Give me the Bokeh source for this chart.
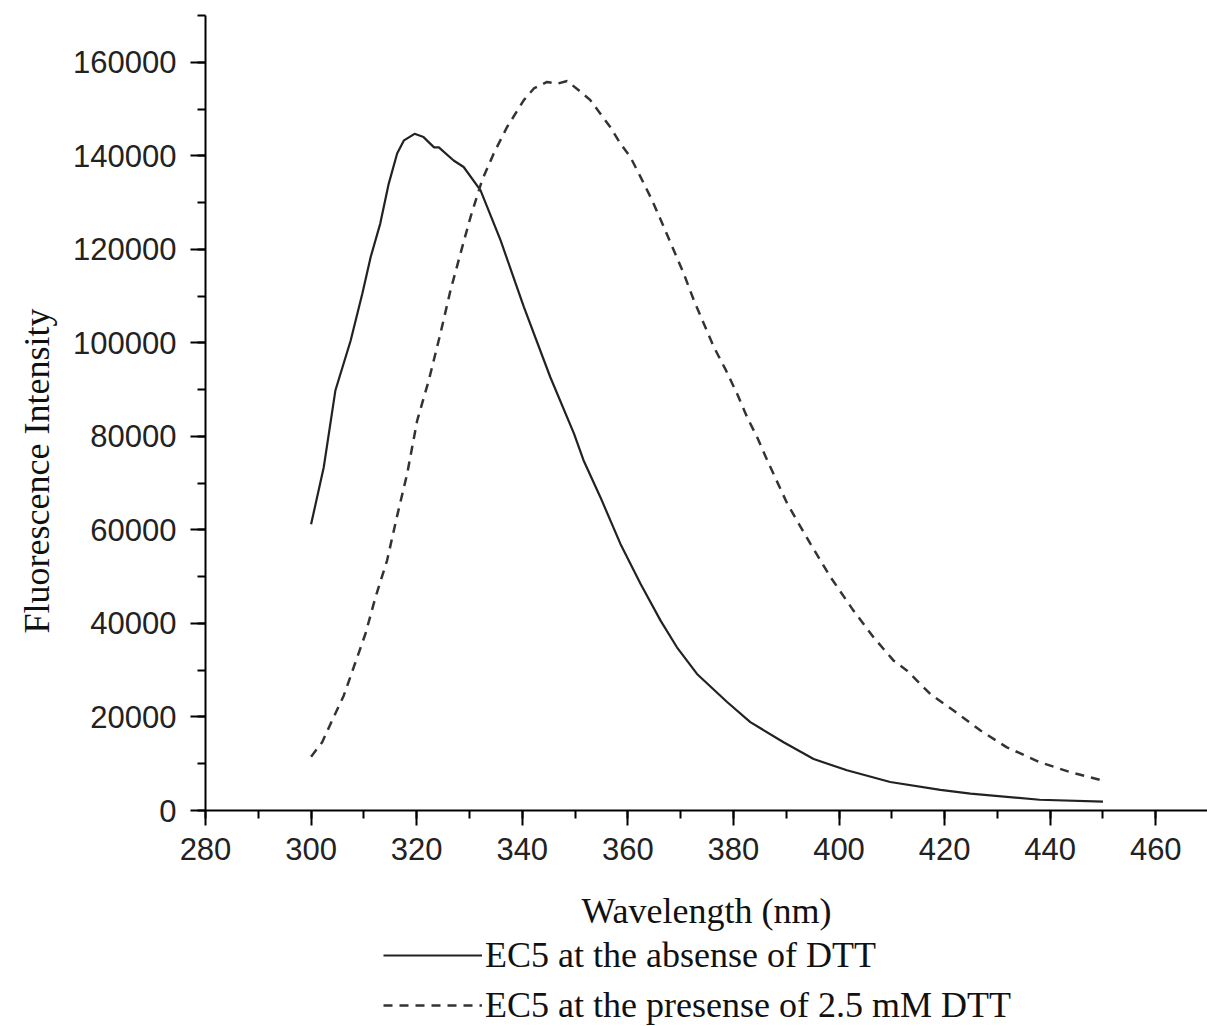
from bokeh.plotting import figure
from bokeh.layouts import column
from bokeh.models import SingleIntervalTicker, Legend, LegendItem, BasicTickFormatter, Range1d, Title
from bokeh.embed import file_html
from bokeh.resources import INLINE

# EC5 at the absence of DTT (solid)
wl_absence = [300, 302.4, 304.6, 307.5, 309.7, 311.3, 313.1, 314.7, 316.3, 317.6, 319.6,
              321.3, 323.3, 324.2, 327.0, 328.9, 332.1, 335.9, 340.3, 345.3, 349.8, 351.6,
              354.8, 358.6, 362.4, 366.2, 369.3, 373.1, 378.8, 383.2, 389.5, 395.2, 401.5,
              409.7, 419.2, 424.9, 438.0, 450.0]
fi_absence = [61200, 73400, 89800, 100500, 110500, 118400, 125500, 134000, 140500, 143300,
              144700, 144000, 141800, 141800, 139000, 137600, 132600, 121900, 107700, 92700,
              80600, 74900, 67000, 57000, 48500, 40600, 34900, 29200, 23200, 18900, 14600,
              11000, 8600, 6100, 4400, 3600, 2300, 1900]

# EC5 at the presence of 2.5 mM DTT (dashed)
wl_presence = [300, 302.1, 304.0, 306.2, 308.1, 310.3, 312.2, 314.4, 316.3, 318.2, 320.1,
               322.3, 324.5, 326.4, 328.3, 330.2, 332.4, 334.6, 337.1, 340.3, 342.2, 344.7,
               346.6, 348.5, 350.7, 352.9, 354.8, 356.7, 358.6, 360.5, 362.4, 364.6, 366.8,
               368.7, 370.6, 372.5, 374.4, 376.3, 378.6, 380.7, 382.6, 384.5, 386.4, 390.2,
               394.6, 398.4, 402.7, 406.5, 410.3, 412.9, 417.3, 421.7, 426.8, 431.8, 438.1,
               443.8, 450.0]
fi_presence = [11500, 14600, 19300, 24600, 30700, 37800, 45600, 53500, 63000, 72000, 83400,
               92000, 102000, 111200, 119100, 126900, 134800, 140500, 146100, 151900, 154400,
               155800, 155400, 156000, 154000, 151900, 149000, 146100, 142600, 139700, 135500,
               130500, 124800, 119800, 114800, 109100, 104100, 99100, 94100, 89100, 84100,
               79800, 74900, 65600, 57000, 49900, 42800, 37100, 32100, 29900, 24900, 21400,
               17100, 13500, 10300, 8200, 6400]

labels = ["EC5 at the absense of DTT", "EC5 at the presense of 2.5 mM DTT"]
x_title = "Wavelength (nm)"
y_title = "Fluorescence Intensity"

solid_style = dict(line_color="#222222", line_width=2.2)
dash_style = dict(line_color="#333333", line_width=2.5, line_dash="9 7")

p = figure(frame_width=1002, frame_height=795, output_backend="svg", toolbar_location=None,
           x_range=Range1d(280, 469.8), y_range=Range1d(0, 170000),
           min_border_left=205, min_border_right=0, min_border_top=15, min_border_bottom=126)
p.outline_line_color = None
p.xgrid.visible = False
p.ygrid.visible = False
p.background_fill_color = "white"
p.border_fill_color = "white"

p.line(wl_absence, fi_absence, **solid_style)
p.line(wl_presence, fi_presence, **dash_style)

for ax in (p.xaxis[0], p.yaxis[0]):
    ax.axis_line_color = "black"
    ax.axis_line_width = 2
    ax.major_tick_line_width = 2
    ax.minor_tick_line_width = 2
    ax.major_tick_line_color = "black"
    ax.minor_tick_line_color = "black"
    ax.major_tick_out = 15
    ax.major_tick_in = 0
    ax.minor_tick_out = 8
    ax.minor_tick_in = 0
    ax.major_label_text_font = "Liberation Sans"
    ax.major_label_text_font_size = "31px"
    ax.major_label_text_color = "#222222"
    ax.axis_label_text_font = "Liberation Serif"
    ax.axis_label_text_font_size = "36px"
    ax.axis_label_text_font_style = "normal"
    ax.axis_label_text_color = "#111111"

p.xaxis[0].ticker = SingleIntervalTicker(interval=20, num_minor_ticks=2)
p.yaxis[0].ticker = SingleIntervalTicker(interval=20000, num_minor_ticks=2)
p.yaxis[0].formatter = BasicTickFormatter(use_scientific=False)
p.xaxis[0].axis_label = x_title
p.xaxis[0].major_label_standoff = 12
p.yaxis[0].major_label_standoff = 14
p.xaxis[0].axis_label_standoff = 28

ytitle = Title(text=y_title, align="left", offset=177, standoff=28,
               text_font="Liberation Serif", text_font_size="36px",
               text_font_style="normal", text_color="#111111")
p.add_layout(ytitle, "left")

# legend strip below the chart (its lines fall outside its own ranges, so only the legend shows)
q = figure(width=1207, height=90, output_backend="svg", toolbar_location=None,
           x_range=Range1d(0, 1), y_range=Range1d(0, 1),
           x_axis_location=None, y_axis_location=None, min_border=0)
q.outline_line_color = None
q.xgrid.visible = False
q.ygrid.visible = False
q.background_fill_color = "white"
q.border_fill_color = "white"
k1 = q.line(wl_absence, fi_absence, **solid_style)
k2 = q.line(wl_presence, fi_presence, **dash_style)

legend = Legend(items=[LegendItem(label=labels[0], renderers=[k1]),
                       LegendItem(label=labels[1], renderers=[k2])],
                location=(178, 0), orientation="vertical",
                glyph_width=99, glyph_height=36, label_height=36, label_standoff=3,
                label_text_font="Liberation Serif", label_text_font_size="36px",
                label_text_color="#111111", spacing=8, padding=0, margin=0,
                border_line_alpha=0, background_fill_alpha=0)
q.add_layout(legend, "center")

layout = column(p, q, spacing=0)
open("out.html", "w").write(file_html(layout, INLINE))
